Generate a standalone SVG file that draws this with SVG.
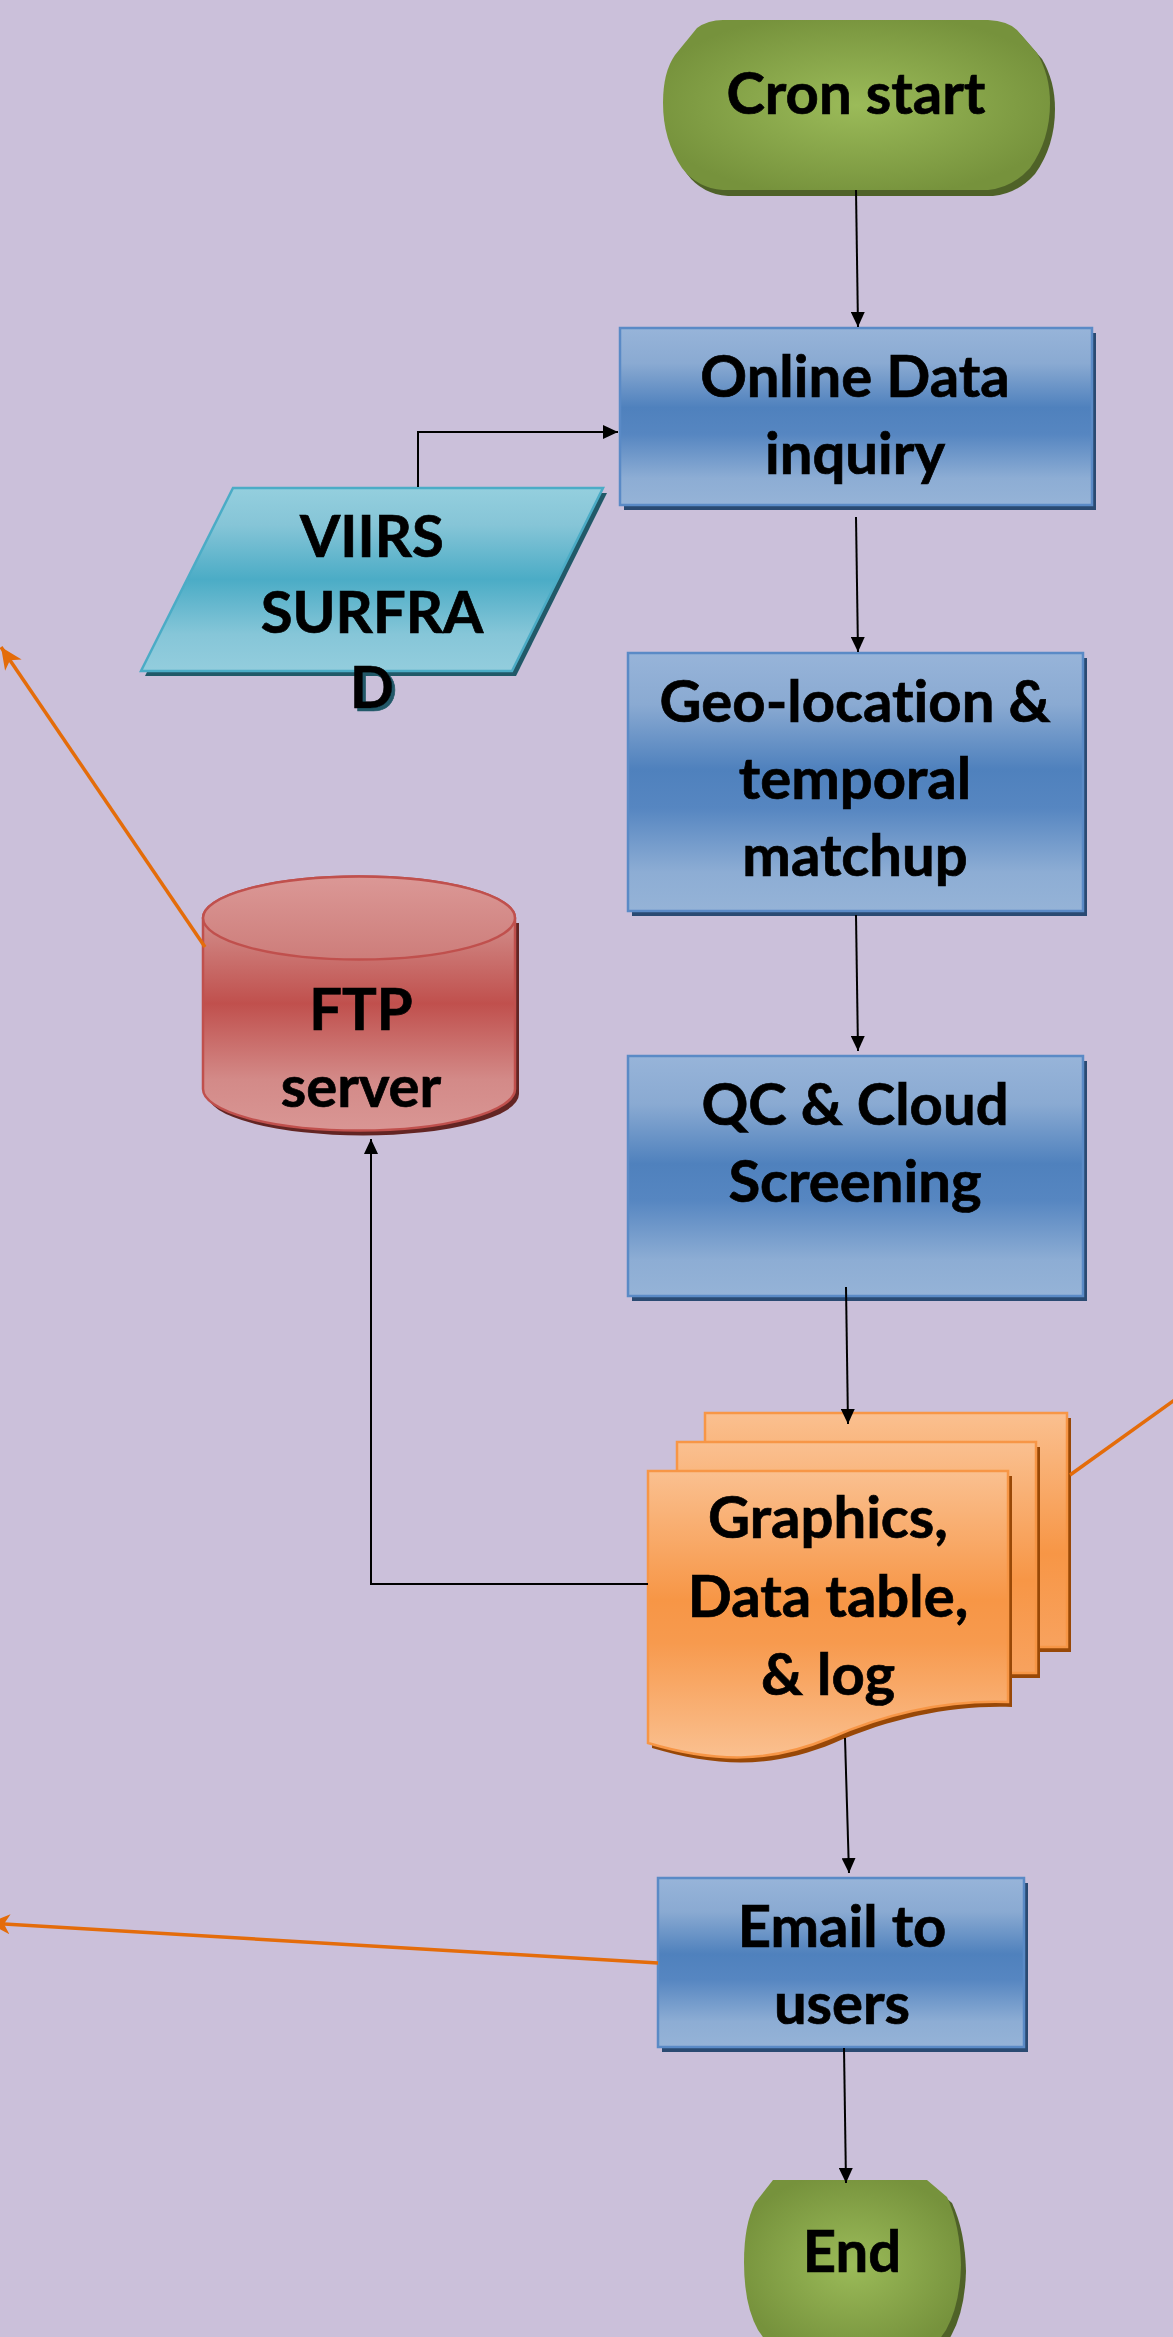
<svg xmlns="http://www.w3.org/2000/svg" width="1173" height="2337" viewBox="0 0 1173 2337">
<defs>
<style>
.t{font-family:Lato,"Liberation Sans","DejaVu Sans",sans-serif;font-weight:bold;font-size:58px;text-anchor:middle;fill:#000;stroke:#000;stroke-width:0.7;font-variant-ligatures:none;font-feature-settings:"liga" 0}
.c{stroke:#000;stroke-width:2;fill:none}
.o{stroke:#E46C0A;stroke-width:3.5;fill:none}
.bx{fill:url(#gBlue);stroke:#5A8AC6;stroke-width:2.5}
.bxs{fill:#2A4A72}
</style>
<linearGradient id="gBlue" x1="0" y1="0" x2="0" y2="1">
<stop offset="0" stop-color="#97B4D9"/><stop offset="0.2" stop-color="#8AAAD2"/><stop offset="0.45" stop-color="#4F81BD"/><stop offset="0.6" stop-color="#5686C1"/><stop offset="0.85" stop-color="#8DADD4"/><stop offset="1" stop-color="#95B3D7"/>
</linearGradient>
<linearGradient id="gCyan" x1="0" y1="0" x2="0" y2="1">
<stop offset="0" stop-color="#94CFDE"/><stop offset="0.2" stop-color="#86C5D7"/><stop offset="0.5" stop-color="#4BACC6"/><stop offset="0.8" stop-color="#86C6D8"/><stop offset="1" stop-color="#93CDDD"/>
</linearGradient>
<linearGradient id="gRed" x1="0" y1="0" x2="0" y2="1">
<stop offset="0" stop-color="#DB9896"/><stop offset="0.2" stop-color="#D08784"/><stop offset="0.5" stop-color="#C0504D"/><stop offset="0.8" stop-color="#D38A88"/><stop offset="1" stop-color="#D99694"/>
</linearGradient>
<linearGradient id="gRedTop" x1="0" y1="0" x2="0" y2="1">
<stop offset="0" stop-color="#DB9896"/><stop offset="1" stop-color="#CD7D7A"/>
</linearGradient>
<linearGradient id="gOrange" x1="0" y1="0" x2="0" y2="1">
<stop offset="0" stop-color="#FAC090"/><stop offset="0.45" stop-color="#F79646"/><stop offset="0.6" stop-color="#F79A4E"/><stop offset="1" stop-color="#FAC090"/>
</linearGradient>
<linearGradient id="gOrangeP" x1="0" y1="0" x2="0" y2="1">
<stop offset="0" stop-color="#FAC090"/><stop offset="0.6" stop-color="#F79646"/><stop offset="1" stop-color="#F8A25E"/>
</linearGradient>
<radialGradient id="gGreen" cx="0.5" cy="0.5" r="0.55">
<stop offset="0" stop-color="#9BBB59"/><stop offset="1" stop-color="#76923C"/>
</radialGradient>
<filter id="ds" x="-20%" y="-20%" width="150%" height="150%">
<feDropShadow dx="3" dy="3" stdDeviation="0.6" flood-color="#215968"/>
</filter>
<marker id="ab" markerUnits="userSpaceOnUse" markerWidth="16" markerHeight="14" refX="15" refY="7" orient="auto">
<path d="M0,0 L15,7 L0,14 Z" fill="#000"/>
</marker>
<marker id="ao" markerUnits="userSpaceOnUse" markerWidth="24" markerHeight="22" refX="22" refY="11" orient="auto">
<path d="M0,1 L22,11 L0,21 L6,11 Z" fill="#E46C0A"/>
</marker>
</defs>
<rect x="0" y="0" width="1173" height="2337" fill="#CBC0DA"/>

<g id="cron-start">
<path transform="translate(5,6)" fill="#4F6228" d="M723,20 L988,20 Q1008,21 1017,30 L1037,53 Q1050,75 1050,103 Q1050,140 1030,168 Q1012,188 988,190 L723,190 Q697,188 682,168 Q663,140 663,103 Q663,72 675,55 L697,28 Q708,20 723,20 Z"/>
<path fill="url(#gGreen)" d="M723,20 L988,20 Q1008,21 1017,30 L1037,53 Q1050,75 1050,103 Q1050,140 1030,168 Q1012,188 988,190 L723,190 Q697,188 682,168 Q663,140 663,103 Q663,72 675,55 L697,28 Q708,20 723,20 Z"/>
<text class="t" x="856" y="114">Cron start</text>
</g>

<g id="online-data-inquiry">
<rect class="bxs" x="624" y="333" width="472" height="177"/>
<rect class="bx" x="620" y="328" width="472" height="177"/>
<text class="t" x="855" y="397">Online Data</text>
<text class="t" x="855" y="474">inquiry</text>
</g>

<g id="viirs-surfrad">
<polygon fill="#215968" points="237,493 607,493 516,676 145,676"/>
<polygon fill="url(#gCyan)" stroke="#4BACC6" stroke-width="2.5" points="233,488 603,488 512,671 141,671"/>
<text class="t" x="372" y="557">VIIRS<tspan x="372" y="633">SURFRA</tspan></text>
<text class="t" x="372" y="708" filter="url(#ds)">D</text>
</g>

<g id="geo-location">
<rect class="bxs" x="632" y="658" width="455" height="258"/>
<rect class="bx" x="628" y="653" width="455" height="258"/>
<text class="t" x="855" y="722">Geo-location &amp;</text>
<text class="t" x="855" y="799">temporal</text>
<text class="t" x="855" y="876">matchup</text>
</g>

<g id="ftp-server">
<path transform="translate(4,5)" fill="#632523" d="M203,918 L203,1089 A156,41.5 0 0 0 515,1089 L515,918 Z"/>
<path fill="url(#gRed)" stroke="#C0504D" stroke-width="2.5" d="M203,918 L203,1089 A156,41.5 0 0 0 515,1089 L515,918 A156,41.5 0 0 0 203,918 Z"/>
<ellipse cx="359" cy="918" rx="156" ry="41.5" fill="url(#gRedTop)" stroke="#C0504D" stroke-width="2.5"/>
<text class="t" x="361" y="1030">FTP</text>
<text class="t" x="361" y="1107">server</text>
</g>

<g id="qc-cloud-screening">
<rect class="bxs" x="632" y="1061" width="455" height="240"/>
<rect class="bx" x="628" y="1056" width="455" height="240"/>
<text class="t" x="855" y="1125">QC &amp; Cloud</text>
<text class="t" x="855" y="1202">Screening</text>
</g>

<g id="graphics-data-log">
<rect x="709" y="1418" width="362" height="234" fill="#984807"/>
<rect x="705" y="1413" width="362" height="234" fill="url(#gOrangeP)" stroke="#F79646" stroke-width="2.5"/>
<rect x="681" y="1447" width="359" height="231" fill="#984807"/>
<rect x="677" y="1442" width="359" height="231" fill="url(#gOrangeP)" stroke="#F79646" stroke-width="2.5"/>
<path transform="translate(4,5)" fill="#984807" d="M648,1471 L1008,1471 L1008,1702 C950,1700 890,1712 830,1738 C770,1763 715,1763 648,1743 Z"/>
<path fill="url(#gOrange)" stroke="#F79646" stroke-width="2.5" d="M648,1471 L1008,1471 L1008,1702 C950,1700 890,1712 830,1738 C770,1763 715,1763 648,1743 Z"/>
<text class="t" x="828" y="1538">Graphics,</text>
<text class="t" x="828" y="1617">Data table,</text>
<text class="t" x="828" y="1695">&amp; log</text>
</g>

<g id="email-to-users">
<rect class="bxs" x="662" y="1883" width="366" height="169"/>
<rect class="bx" x="658" y="1878" width="366" height="169"/>
<text class="t" x="842" y="1947">Email to</text>
<text class="t" x="842" y="2024">users</text>
</g>

<g id="end">
<path transform="translate(5,6)" fill="#4F6228" d="M773,2180 L927,2180 L947,2197 Q960,2225 961,2265 Q960,2305 946,2330 L932,2350 L772,2350 L758,2330 Q744,2305 744,2262 Q744,2225 755,2203 Z"/>
<path fill="url(#gGreen)" d="M773,2180 L927,2180 L947,2197 Q960,2225 961,2265 Q960,2305 946,2330 L932,2350 L772,2350 L758,2330 Q744,2305 744,2262 Q744,2225 755,2203 Z"/>
<text class="t" x="852" y="2272">End</text>
</g>

<g id="connectors">
<path class="c" d="M856,190 L858,327" marker-end="url(#ab)"/>
<path class="c" d="M418,487 L418,432 L618,432" marker-end="url(#ab)"/>
<path class="c" d="M856,517 L858,652" marker-end="url(#ab)"/>
<path class="c" d="M856,915 L858,1051" marker-end="url(#ab)"/>
<path class="c" d="M846,1287 L848,1424" marker-end="url(#ab)"/>
<path class="c" d="M648,1584 L371,1584 L371,1139" marker-end="url(#ab)"/>
<path class="c" d="M845,1738 L849,1873" marker-end="url(#ab)"/>
<path class="c" d="M844,2048 L846,2183" marker-end="url(#ab)"/>
<path class="o" d="M205,947 L1,647" marker-end="url(#ao)"/>
<path class="o" d="M1070,1475 L1190,1389"/>
<path class="o" d="M658,1963 L-12,1923" marker-end="url(#ao)"/>
</g>
</svg>
